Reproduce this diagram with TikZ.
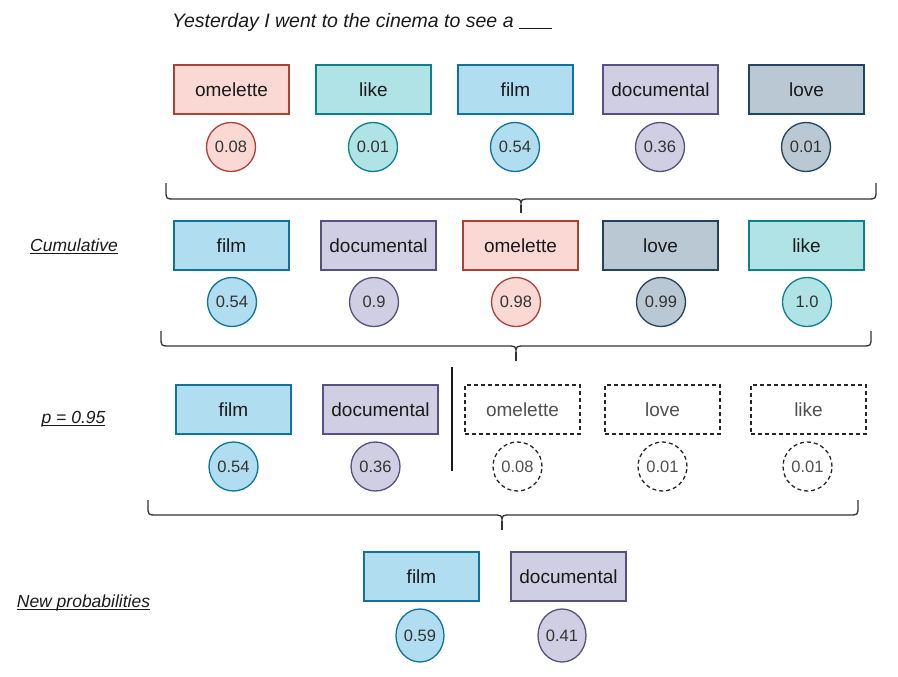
\documentclass[tikz,border=0pt]{standalone}
\usepackage{fontspec}
\setmainfont{Liberation Sans}
\usetikzlibrary{shapes.geometric}
\definecolor{redF}{HTML}{FAD9D5}\definecolor{redD}{HTML}{AE4132}
\definecolor{tealF}{HTML}{B0E3E6}\definecolor{tealD}{HTML}{0E8088}
\definecolor{blueF}{HTML}{B1DDF0}\definecolor{blueD}{HTML}{10739E}
\definecolor{purpF}{HTML}{D0CEE2}\definecolor{purpD}{HTML}{56517E}
\definecolor{grayF}{HTML}{BAC8D3}\definecolor{grayD}{HTML}{23445D}
\definecolor{txt}{HTML}{1A1A1A}
\definecolor{ctxt}{HTML}{333333}
\definecolor{dtxt}{HTML}{505050}
\definecolor{brc}{HTML}{333333}
\newcommand\myul[1]{\setbox0\hbox{#1}\rlap{\rule[-2.2pt]{\wd0}{0.9pt}}\box0}
\tikzset{
  wbox/.style={rectangle, minimum width=115pt, minimum height=49pt, inner sep=0pt,
    line width=1.3pt, font=\fontsize{19}{22}\selectfont, text=txt},
  prob/.style={circle, minimum size=49pt, inner sep=0pt, line width=1.3pt,
    font=\fontsize{16.5}{20}\selectfont, text=ctxt},
  probE/.style={ellipse, minimum width=48pt, minimum height=53pt, inner sep=0pt, line width=1.3pt,
    font=\fontsize{16.5}{20}\selectfont, text=ctxt},
  cRed/.style={fill=redF, draw=redD},
  cTeal/.style={fill=tealF, draw=tealD},
  cBlue/.style={fill=blueF, draw=blueD},
  cPurp/.style={fill=purpF, draw=purpD},
  cGray/.style={fill=grayF, draw=grayD},
  cDash/.style={draw=black!85, dash pattern=on 4pt off 3pt, text=dtxt},
  rowlabel/.style={font=\fontsize{17.5}{21}\selectfont\itshape, text=txt, inner sep=0pt},
  bracel/.style={draw=brc, line width=1.3pt},
}
\begin{document}
\begin{tikzpicture}[x=1pt,y=-1pt]
\useasboundingbox (0,0) rectangle (898,677);
% title
\node[anchor=west, font=\fontsize{19.5}{23}\selectfont\itshape, text=txt, inner sep=0pt] (title) at (172,22)
  {Yesterday I went to the cinema to see a \rule[-2pt]{33pt}{1.4pt}};
% row 1
\node[wbox,cRed]  (r1a) at (231.5,89.5) {omelette};
\node[wbox,cTeal] (r1b) at (373.5,89.5) {like};
\node[wbox,cBlue] (r1c) at (515.5,89.5) {film};
\node[wbox,cPurp] (r1d) at (660.5,89.5) {documental};
\node[wbox,cGray] (r1e) at (806.5,89.5) {love};
\node[prob,cRed]  (p1a) at (231,147) {0.08};
\node[prob,cTeal] (p1b) at (373,147) {0.01};
\node[prob,cBlue] (p1c) at (515,147) {0.54};
\node[prob,cPurp] (p1d) at (660,147) {0.36};
\node[prob,cGray] (p1e) at (806,147) {0.01};
% brace 1
\draw[bracel] (166,183) -- (166,190) .. controls (166,199) .. (175,199) -- (511,199)
  .. controls (521,199) .. (521,206) .. controls (521,199) .. (531,199) -- (867,199)
  .. controls (876,199) .. (876,190) -- (876,183);
\draw[bracel] (521,205) -- (521,213);
% row 2
\node[rowlabel] (lab1) at (74,246) {\myul{Cumulative}};
\node[wbox,cBlue] (r2a) at (231.5,245.5) {film};
\node[wbox,cPurp] (r2b) at (378.5,245.5) {documental};
\node[wbox,cRed]  (r2c) at (520.5,245.5) {omelette};
\node[wbox,cGray] (r2d) at (660.5,245.5) {love};
\node[wbox,cTeal] (r2e) at (806.5,245.5) {like};
\node[prob,cBlue] (p2a) at (232,302) {0.54};
\node[prob,cPurp] (p2b) at (374,302) {0.9};
\node[prob,cRed]  (p2c) at (516,302) {0.98};
\node[prob,cGray] (p2d) at (661,302) {0.99};
\node[prob,cTeal] (p2e) at (807,302) {1.0};
% brace 2
\draw[bracel] (161,331) -- (161,337) .. controls (161,346) .. (170,346) -- (506,346)
  .. controls (516,346) .. (516,353) .. controls (516,346) .. (526,346) -- (862,346)
  .. controls (871,346) .. (871,337) -- (871,331);
\draw[bracel] (516,352) -- (516,361);
% row 3
\node[rowlabel] (lab2) at (73.5,419) {\myul{p = 0.95}};
\node[wbox,cBlue] (r3a) at (233.5,409.5) {film};
\node[wbox,cPurp] (r3b) at (380.5,409.5) {documental};
\node[wbox,cDash] (r3c) at (522.5,409.5) {omelette};
\node[wbox,cDash] (r3d) at (662.5,409.5) {love};
\node[wbox,cDash] (r3e) at (808.5,409.5) {like};
\node[prob,cBlue] (p3a) at (233.5,466.5) {0.54};
\node[prob,cPurp] (p3b) at (375.5,466.5) {0.36};
\node[prob,cDash] (p3c) at (517.5,466.5) {0.08};
\node[prob,cDash] (p3d) at (662.5,466.5) {0.01};
\node[prob,cDash] (p3e) at (807.5,466.5) {0.01};
\coordinate (cutT) at (452,367);
\coordinate (cutB) at (452,471);
\draw[line width=1.4pt, black!90] (cutT) -- (cutB);
% brace 3
\draw[bracel] (148,500) -- (148,506) .. controls (148,515) .. (157,515) -- (492,515)
  .. controls (502,515) .. (502,522) .. controls (502,515) .. (512,515) -- (849,515)
  .. controls (858,515) .. (858,506) -- (858,500);
\draw[bracel] (502,521) -- (502,530);
% row 4
\node[rowlabel] (lab3) at (83.5,603) {\myul{New probabilities}};
\node[wbox,cBlue] (r4a) at (421.5,576.5) {film};
\node[wbox,cPurp] (r4b) at (568.5,576.5) {documental};
\node[probE,cBlue] (p4a) at (420,635.5) {0.59};
\node[probE,cPurp] (p4b) at (562,635.5) {0.41};
\end{tikzpicture}
\end{document}
